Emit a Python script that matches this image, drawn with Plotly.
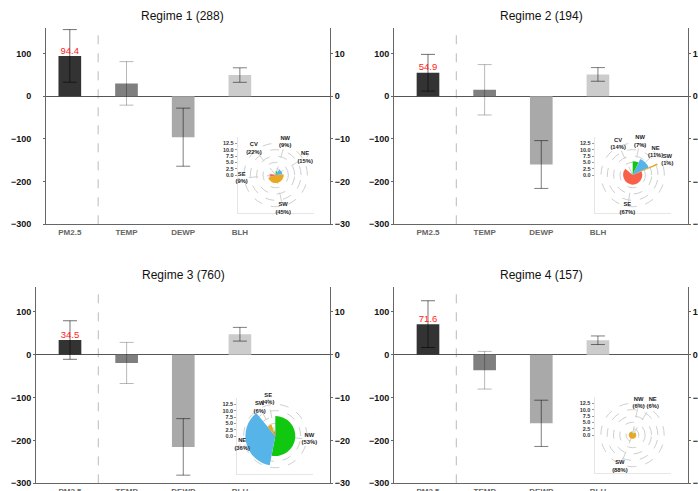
import plotly.graph_objects as go

# ---------------- data ----------------
variables = ["PM2.5", "TEMP", "DEWP", "BLH"]
regime_names = ["Regime 1", "Regime 2", "Regime 3", "Regime 4"]
regime_counts = [288, 194, 760, 157]

# PM2.5 anomaly (left axis) and meteorological anomalies (right axis)
pm25_mean = [94.4, 54.9, 34.5, 71.6]
pm25_sd = [61.6, 43.0, 45.0, 54.6]
temp_mean = [3.0, 1.5, -1.9, -3.6]
temp_sd = [5.1, 5.9, 4.8, 4.4]
dewp_mean = [-9.6, -16.0, -21.5, -16.0]
dewp_sd = [6.8, 5.6, 6.6, 5.4]
blh_mean = [4.95, 5.1, 4.8, 3.4]
blh_sd = [1.7, 1.6, 1.6, 1.0]

left_ticks = [-300, -200, -100, 0, 100]
right_ticks = [-30, -20, -10, 0, 10]

# wind roses: share of hours per direction (%) and mean wind speed
wind_dirs = ["NW", "NE", "SW", "SE", "CV"]
wind_pct = [
    [9, 15, 45, 9, 22],
    [7, 11, 1, 67, 14],
    [53, 36, 6, 4, 0],
    [6, 6, 88, 0, 0],
]
wind_speed = [
    [1.5, 2.6, 3.2, 2.2, 0.0],
    [5.4, 7.0, 10.6, 3.8, 0.0],
    [7.9, 11.8, 4.8, 1.8, 0.0],
    [0.8, 0.8, 1.5, 0.0, 0.0],
]
rose_ticks = [0.0, 2.5, 5.0, 7.5, 10.0, 12.5]

# ---------------- styling ----------------
W, H = 698, 491
FONT = "Liberation Sans, Arial, sans-serif"
bar_colors = {"PM2.5": "#333333", "TEMP": "#7f7f7f", "DEWP": "#a9a9a9", "BLH": "#cccccc"}
err_colors = {"PM2.5": "rgba(0,0,0,0.55)", "TEMP": "rgba(0,0,0,0.28)",
              "DEWP": "rgba(0,0,0,0.5)", "BLH": "rgba(0,0,0,0.5)"}
dir_colors = {"NW": "#11c811", "NE": "#56b4e9", "SW": "#e9a820", "SE": "#f8604a", "CV": "#999999"}
axis_col = "#666666"
rose_grid = "#cfcfcf"


def fx(p):
    return p / W


def fy(p):
    return 1 - p / H


def ax_id(letter, k):
    return letter if k == 1 else f"{letter}{k}"


# panel geometry in pixels
panels = [
    dict(x0=46, x1=330, y0=28.3, y1=224.3, xmin=-0.42, tx=183, ty=15.7, standoff=10, cx=275.7, cy=175),
    dict(x0=394, x1=688, y0=28.3, y1=224.3, xmin=-0.6, tx=541, ty=15.7, standoff=0, cx=632.7, cy=175),
    dict(x0=36, x1=330, y0=286.7, y1=483.3, xmin=-0.6, tx=183.3, ty=275, standoff=0, cx=275.3, cy=436),
    dict(x0=394, x1=688, y0=286.7, y1=483.3, xmin=-0.6, tx=541.3, ty=275, standoff=0, cx=632.5, cy=435),
]
XMAX = 4.59
RHALF = 38  # inset half-size in px
LABEL_R = 13.5

fig = go.Figure()
layout = dict(
    width=W, height=H, margin=dict(l=0, r=0, t=0, b=0, autoexpand=False),
    paper_bgcolor="white", plot_bgcolor="rgba(0,0,0,0)",
    showlegend=False, barmode="overlay",
    font=dict(family=FONT, color="#222222"),
    annotations=[], shapes=[],
)

met = {"TEMP": (temp_mean, temp_sd), "DEWP": (dewp_mean, dewp_sd), "BLH": (blh_mean, blh_sd)}

for i, p in enumerate(panels):
    n = i + 1
    xa, ya, yr = ax_id("x", n), ax_id("y", n), ax_id("y", n + 4)
    xin, yin = ax_id("x", n + 4), ax_id("y", n + 8)

    # PM2.5 bar on the left axis
    fig.add_trace(go.Bar(
        x=[variables[0]], y=[pm25_mean[i]], width=0.4,
        marker=dict(color=bar_colors["PM2.5"], line=dict(width=0)),
        error_y=dict(type="data", array=[pm25_sd[i]], color=err_colors["PM2.5"], thickness=1, width=7),
        xaxis=xa, yaxis=ya,
    ))
    # meteorological bars on the right axis
    for v in variables[1:]:
        m, s = met[v]
        fig.add_trace(go.Bar(
            x=[v], y=[m[i]], width=0.4,
            marker=dict(color=bar_colors[v], line=dict(width=0)),
            error_y=dict(type="data", array=[s[i]], color=err_colors[v], thickness=1, width=7),
            xaxis=xa, yaxis=yr,
        ))
    # PM2.5 value label sitting on the bar top
    fig.add_trace(go.Scatter(
        x=[variables[0]], y=[pm25_mean[i]], mode="text", text=[f"{pm25_mean[i]:.1f}"],
        textposition="top center", textfont=dict(color="#ff1a1a", size=9.5, family=FONT),
        cliponaxis=False, hoverinfo="skip", xaxis=xa, yaxis=ya,
    ))

    dom_x = [fx(p["x0"]), fx(p["x1"])]
    dom_y = [fy(p["y1"]), fy(p["y0"])]
    layout["xaxis" + ("" if n == 1 else str(n))] = dict(
        domain=dom_x, anchor=ya, type="category", categoryorder="array", categoryarray=variables,
        range=[p["xmin"], XMAX], showline=True, linecolor=axis_col, linewidth=1, ticks="",
        tickfont=dict(size=8, color="#666666", weight="bold"), showgrid=False, zeroline=False,
        fixedrange=True, automargin=False,
    )
    layout["yaxis" + ("" if n == 1 else str(n))] = dict(
        domain=dom_y, anchor=xa, range=[-300, 159], tickvals=left_ticks,
        showline=True, linecolor=axis_col, linewidth=1, ticks="outside", ticklen=2, tickcolor=axis_col,
        tickfont=dict(size=9, color="#111111", weight="bold"), showgrid=False,
        zeroline=True, zerolinecolor="#555555", zerolinewidth=1, ticklabelstandoff=p["standoff"],
        fixedrange=True, automargin=False,
    )
    layout[f"yaxis{n + 4}"] = dict(
        overlaying=ya, anchor=xa, side="right", range=[-30, 15.9], tickvals=right_ticks,
        showline=True, linecolor=axis_col, linewidth=1, ticks="outside", ticklen=2, tickcolor=axis_col,
        tickfont=dict(size=9, color="#111111", weight="bold"), showgrid=False, zeroline=False,
        fixedrange=True, automargin=False,
    )
    layout["shapes"].append(dict(
        type="line", xref=xa, yref=f"{ya} domain", x0=0.5, x1=0.5, y0=0, y1=1,
        line=dict(color="#bbbbbb", width=1, dash="dash"), layer="below",
    ))
    layout["annotations"].append(dict(
        text=f"{regime_names[i]} ({regime_counts[i]})", xref="paper", yref="paper",
        x=fx(p["tx"]), y=fy(p["ty"]), xanchor="center", yanchor="middle", showarrow=False,
        font=dict(size=12, color="#111111", family=FONT),
    ))

    # wind-rose inset
    ix = [fx(p["cx"] - RHALF), fx(p["cx"] + RHALF)]
    iy = [fy(p["cy"] + RHALF), fy(p["cy"] - RHALF)]
    pid = "polar" if n == 1 else f"polar{n}"

    # frame + radial scale of the inset
    layout[f"xaxis{n + 4}"] = dict(
        domain=ix, anchor=yin, range=[-15, 15], showline=True, linecolor="#e6e6e6", linewidth=1,
        showticklabels=False, ticks="", showgrid=False, zeroline=False, fixedrange=True,
        automargin=False,
    )
    layout[f"yaxis{n + 8}"] = dict(
        domain=iy, anchor=xin, range=[-15, 15], tickvals=rose_ticks,
        ticktext=[f"{t:.1f}" for t in rose_ticks], showline=True, linecolor="#e6e6e6", linewidth=1,
        ticks="outside", ticklen=2, tickcolor="#999999",
        tickfont=dict(size=5.5, color="#333333", weight="bold"), showgrid=False, zeroline=False,
        fixedrange=True, automargin=False,
    )
    fig.add_trace(go.Scatter(x=[None], y=[None], xaxis=xin, yaxis=yin, hoverinfo="skip"))

    mids, widths, rs, cols, labels, label_r = [], [], [], [], [], []
    acc = 0.0
    for d, pct, spd in zip(wind_dirs, wind_pct[i], wind_speed[i]):
        if pct <= 0:
            continue
        w = pct * 3.6
        mid = acc + w / 2
        # stagger a label against the previous one when the two crowd each other
        crowded = bool(mids) and (mid - mids[-1]) < 25 and label_r[-1] == LABEL_R
        if crowded:
            label_r[-1] = LABEL_R - 0.7
        mids.append(mid)
        widths.append(w)
        rs.append(spd)
        cols.append(dir_colors[d])
        labels.append(f"{d}<br>({pct}%)")
        label_r.append(14.9 if crowded else LABEL_R)
        acc += w

    fig.add_trace(go.Barpolar(
        r=rs, theta=mids, width=widths, marker=dict(color=cols, line=dict(width=0)),
        subplot=pid, hoverinfo="skip",
    ))
    fig.add_trace(go.Scatterpolar(
        r=label_r, theta=mids, mode="text", text=labels,
        textfont=dict(size=5.8, color="#222222", family=FONT, weight="bold"),
        subplot=pid, hoverinfo="skip", cliponaxis=False,
    ))
    layout[pid] = dict(
        domain=dict(x=ix, y=iy), bgcolor="rgba(0,0,0,0)", bargap=0,
        angularaxis=dict(direction="clockwise", rotation=90, tickvals=mids, showticklabels=False,
                         ticks="", showline=False, showgrid=True, gridcolor=rose_grid,
                         griddash="dash", gridwidth=0.8),
        radialaxis=dict(range=[0, 15], tickvals=[2.5, 5, 7.5, 10, 12.5, 15], showticklabels=False,
                        ticks="", showline=False, showgrid=True, gridcolor=rose_grid,
                        griddash="dash", gridwidth=0.8),
    )

fig.update_layout(**layout)
fig.write_html("out.html")
